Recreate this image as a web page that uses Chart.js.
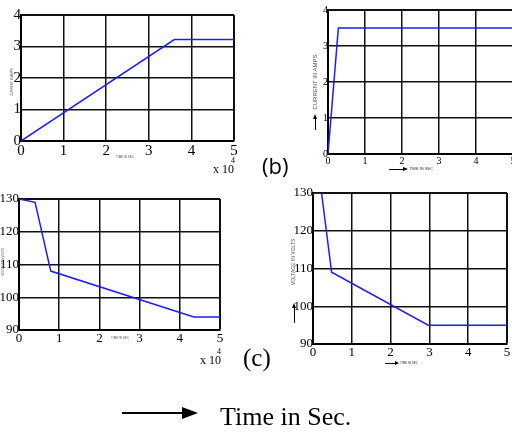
<!DOCTYPE html>
<html>
<head>
<meta charset="utf-8">
<script src="https://cdn.jsdelivr.net/npm/chart.js@4.4.0/dist/chart.umd.min.js"></script>
<style>
html, body { margin: 0; padding: 0; background: #fff; width: 512px; height: 435px; overflow: hidden; }
canvas { position: absolute; }
.t { position: absolute; white-space: nowrap; line-height: 1; color: #000; font-family: 'Liberation Serif', serif; }
.tiny { font-family: 'Liberation Sans', sans-serif; color: #555; }
.rot { transform: translate(-50%, -50%) rotate(-90deg); }
.ctr { transform: translate(-50%, -50%); }
.bar { position: absolute; background: #000; }
.tri { position: absolute; width: 0; height: 0; }
</style>
</head>
<body>
<canvas id="chartA" width="240" height="165" style="left:0;top:0"></canvas>
<canvas id="chartB" width="220" height="175" style="left:300px;top:0"></canvas>
<canvas id="chartC" width="230" height="165" style="left:0;top:185px"></canvas>
<canvas id="chartD" width="235" height="175" style="left:280px;top:185px"></canvas>

<!-- (a) top left -->
<div class="t tiny rot" style="left:12px;top:82px;font-size:3px">CURRENT IN AMPS</div>
<div class="t tiny ctr" style="left:125px;top:157px;font-size:3px">TIME IN SEC</div>
<div class="t" style="left:213px;top:163px;font-size:12px">x 10</div>
<div class="t" style="left:231px;top:157px;font-size:8px">4</div>

<!-- (b) top right -->
<div class="t" style="left:262px;top:154px;font-size:22px;font-family:'Open Sans',sans-serif">(b)</div>
<div class="t tiny rot" style="left:315px;top:82px;font-size:6px">CURRENT IN AMPS</div>
<div class="bar" style="left:315px;top:118px;width:1px;height:12px"></div>
<div class="tri" style="left:313px;top:114px;border-left:2px solid transparent;border-right:2px solid transparent;border-bottom:5px solid #000"></div>
<div class="bar" style="left:389px;top:169px;width:14px;height:1px"></div>
<div class="tri" style="left:403px;top:167px;border-top:2px solid transparent;border-bottom:2px solid transparent;border-left:5px solid #000"></div>
<div class="t tiny" style="left:409px;top:167px;font-size:4px;color:#333">TIME IN SEC</div>

<!-- (c) bottom left -->
<div class="t tiny rot" style="left:3px;top:262px;font-size:3px">VOLTAGE IN VOLTS</div>
<div class="t tiny ctr" style="left:120px;top:338px;font-size:3px">TIME IN SEC</div>
<div class="t" style="left:200px;top:354px;font-size:12px">x 10</div>
<div class="t" style="left:217px;top:348px;font-size:8px">4</div>
<div class="t" style="left:243px;top:345px;font-size:25px">(c)</div>

<!-- (d) bottom right -->
<div class="t tiny rot" style="left:293px;top:262px;font-size:5px">VOLTAGE IN VOLTS</div>
<div class="bar" style="left:294px;top:308px;width:1px;height:15px"></div>
<div class="tri" style="left:292px;top:303px;border-left:2px solid transparent;border-right:2px solid transparent;border-bottom:5px solid #000"></div>
<div class="bar" style="left:385px;top:363px;width:10px;height:1px"></div>
<div class="tri" style="left:395px;top:361px;border-top:2px solid transparent;border-bottom:2px solid transparent;border-left:4px solid #000"></div>
<div class="t tiny" style="left:400px;top:362px;font-size:3px;color:#333">TIME IN SEC</div>

<!-- common caption -->
<div class="bar" style="left:122px;top:412px;width:62px;height:2px"></div>
<div class="tri" style="left:182px;top:407px;border-top:6px solid transparent;border-bottom:6px solid transparent;border-left:16px solid #000"></div>
<div class="t" style="left:220px;top:404px;font-size:26px">Time in Sec.</div>

<script>
// (a) current vs time, x in seconds (axis shown as x 10^4)
const timeA = [0, 36000, 50000];
const currentA = [0, 3.22, 3.22];
// (b) current vs time in sec
const timeB = [0, 0.28, 5];
const currentB = [0, 3.5, 3.5];
// (c) voltage vs time, x in seconds (axis shown as x 10^4)
const timeC = [0, 4000, 7900, 43500, 50000];
const voltageC = [130, 129, 108, 94, 94];
// (d) voltage vs time in sec
const timeD = [0, 0.22, 0.48, 2.97, 5];
const voltageD = [130, 130, 109, 95, 95];

function makeChart(id, xs, ys, o) {
  const grid = (max) => ({
    color: '#111',
    lineWidth: c => (c.tick && c.tick.value === max) ? 2 : 1.5,
    drawTicks: false
  });
  const font = { family: "'Liberation Serif', serif", size: o.fontSize };
  return new Chart(document.getElementById(id).getContext('2d'), {
    type: 'line',
    data: {
      datasets: [{
        data: xs.map((x, i) => ({ x: x, y: ys[i] })),
        borderColor: '#1e1ef0',
        borderWidth: 1.5,
        pointRadius: 0,
        tension: 0,
        fill: false
      }]
    },
    options: {
      responsive: false,
      animation: false,
      layout: { autoPadding: false, padding: { left: 0, top: o.top, right: o.right, bottom: 0 } },
      plugins: { legend: { display: false }, tooltip: { enabled: false } },
      scales: {
        x: {
          type: 'linear', min: 0, max: o.xMax,
          ticks: {
            stepSize: o.xStep, autoSkip: false, maxRotation: 0, padding: 1,
            color: '#000', font: font,
            callback: v => String(Math.round(v / o.xStep))
          },
          grid: grid(o.xMax),
          border: { color: '#000', width: 2 },
          afterFit: s => { s.height = o.xh; }
        },
        y: {
          min: o.yMin, max: o.yMax,
          ticks: { stepSize: o.yStep, autoSkip: false, padding: 0, color: '#000', font: font },
          grid: grid(o.yMax),
          border: { color: '#000', width: 2 },
          afterFit: s => { s.width = o.yw; }
        }
      }
    }
  });
}

makeChart('chartA', timeA, currentA, { top: 15, right: 6, xh: 24, yw: 21, xMax: 50000, xStep: 10000, yMin: 0, yMax: 4, yStep: 1, fontSize: 15 });
makeChart('chartB', timeB, currentB, { top: 10, right: 7, xh: 21, yw: 28, xMax: 5, xStep: 1, yMin: 0, yMax: 4, yStep: 1, fontSize: 10 });
makeChart('chartC', timeC, voltageC, { top: 14, right: 10, xh: 20, yw: 19, xMax: 50000, xStep: 10000, yMin: 90, yMax: 130, yStep: 10, fontSize: 13 });
makeChart('chartD', timeD, voltageD, { top: 8, right: 8, xh: 16, yw: 33, xMax: 5, xStep: 1, yMin: 90, yMax: 130, yStep: 10, fontSize: 13 });
</script>
</body>
</html>
